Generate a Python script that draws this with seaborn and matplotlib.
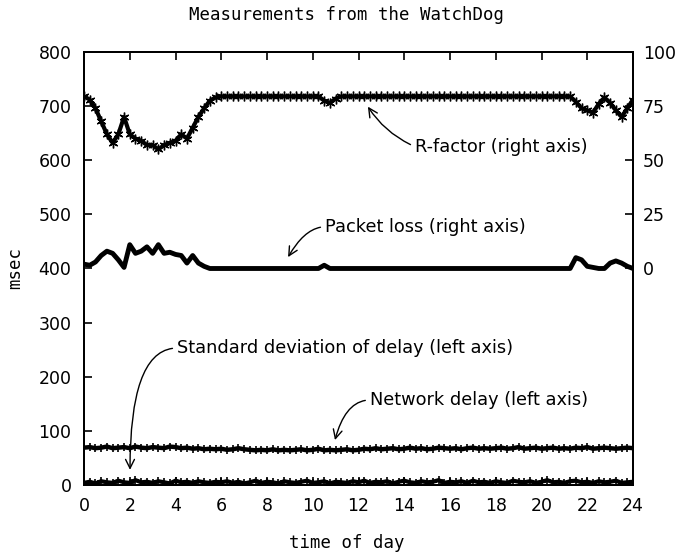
#!/usr/bin/env python3
# -*- coding: utf-8 -*-

"""
WatchDog measurements over one day: delay on the left axis (msec),
R-factor and packet loss on the right axis.
"""

import matplotlib
matplotlib.use('Agg')
import matplotlib.pyplot as plt
import numpy as np
import seaborn as sns

# sample times, every quarter of an hour
hours = np.arange(0, 24.01, 0.25)

# right axis
r_factor = [79.5, 78, 74, 68, 62, 58, 62, 70, 62, 60, 59, 57, 57, 55, 57,
            58, 59, 62, 60, 65, 70, 74, 77.5, 79, 79.5,
            79.5, 79.5, 79.5, 79.5, 79.5, 79.5, 79.5, 79.5, 79.5, 79.5,
            79.5, 79.5, 79.5, 79.5, 79.5, 79.5, 79.5,
            77.5, 76.5, 78.5, 79.5,
            79.5, 79.5, 79.5, 79.5, 79.5, 79.5, 79.5, 79.5, 79.5, 79.5,
            79.5, 79.5, 79.5, 79.5, 79.5, 79.5, 79.5, 79.5, 79.5, 79.5,
            79.5, 79.5, 79.5, 79.5, 79.5, 79.5, 79.5, 79.5, 79.5, 79.5,
            79.5, 79.5, 79.5, 79.5, 79.5, 79.5, 79.5, 79.5, 79.5, 79.5,
            77, 74, 73, 72, 76, 79, 76.5, 73, 70, 74, 78]

packet_loss = [2, 1.5, 3, 6, 8, 7, 4, 0.5, 11, 7, 8, 10, 7, 11, 7, 7.5,
               6.5, 6, 2.5, 6, 2.5, 1, 0, 0, 0,
               0, 0, 0, 0, 0, 0, 0, 0, 0, 0, 0, 0, 0, 0, 0, 0, 0,
               1.5, 0, 0, 0,
               0, 0, 0, 0, 0, 0, 0, 0, 0, 0, 0, 0, 0, 0, 0, 0, 0, 0, 0, 0,
               0, 0, 0, 0, 0, 0, 0, 0, 0, 0, 0, 0, 0, 0, 0, 0, 0, 0, 0, 0,
               5, 4, 1, 0.5, 0, 0, 2.5, 3.5, 2.5, 1, 0]

# left axis (msec)
net_delay = [69, 70, 68, 69, 71, 68, 69, 70, 68, 71, 69, 68, 70, 69, 68, 71,
             70, 68, 69, 67, 68, 66, 67, 66,
             67, 65, 66, 68, 66, 65, 64, 65, 64, 66, 64, 65, 64, 65, 66, 64,
             65, 67, 64, 65, 64, 65, 66, 64,
             65, 67, 66, 68, 66, 67, 68, 66, 67, 69, 67, 68, 66, 67, 69, 68,
             67, 68, 66, 68, 69, 67, 68, 67,
             68, 69, 67, 68, 70, 67, 68, 69, 67, 68, 69, 67, 68, 67, 69, 68,
             70, 67, 68, 69, 68, 67, 68, 69, 68]

std_delay = [4, 6, 3, 7, 5, 4, 8, 5, 4, 9, 5, 6, 4, 7, 5, 3, 8, 5, 6, 4, 7,
             5, 4, 6,
             5, 7, 4, 6, 3, 5, 8, 4, 6, 5, 3, 7, 5, 4, 6, 8, 4, 5, 7, 3, 6,
             5, 4, 7,
             5, 8, 4, 6, 5, 7, 3, 6, 8, 5, 4, 7, 5, 6, 9, 4, 6, 5, 7, 4, 8,
             5, 6, 4,
             7, 5, 4, 8, 6, 5, 7, 4, 6, 9, 5, 6, 4, 7, 8, 5, 6, 4, 7, 5, 6,
             8, 4, 5, 6]

x_ticks = list(range(0, 25, 2))
left_ticks = list(range(0, 801, 100))
right_ticks = [0, 25, 50, 75, 100]

sans = ['DejaVu Sans']
mono = ['DejaVu Sans Mono']


def main():
    sns.set_style("white")
    plt.rcParams['font.family'] = sans
    plt.rcParams.update({'text.color': 'black', 'axes.labelcolor': 'black',
                         'xtick.color': 'black', 'ytick.color': 'black'})

    fig = plt.figure(figsize=(6.91, 5.56), dpi=100)
    ax = fig.add_axes([0.1216, 0.1277, 0.7945, 0.7788])
    ax2 = ax.twinx()

    sns.lineplot(x=hours, y=net_delay, ax=ax, color='black', linewidth=3.2,
                 marker='+', markersize=6, markeredgewidth=1.2,
                 markeredgecolor='black')
    sns.lineplot(x=hours, y=std_delay, ax=ax, color='black', linewidth=3,
                 marker='+', markersize=6, markeredgewidth=1.2,
                 markeredgecolor='black')
    sns.lineplot(x=hours, y=r_factor, ax=ax2, color='black', linewidth=3,
                 marker=(6, 2, 0), markersize=7, markeredgewidth=1,
                 markeredgecolor='black')
    sns.lineplot(x=hours, y=packet_loss, ax=ax2, color='black', linewidth=3.5)

    ax.set_xlim(0, 24)
    ax.set_ylim(0, 800)
    ax2.set_ylim(-100, 100)
    ax.set_xticks(x_ticks)
    ax.set_yticks(left_ticks)
    ax2.set_yticks(right_ticks)

    for a in (ax, ax2):
        for s in a.spines.values():
            s.set_linewidth(1.4)
            s.set_color('black')
    ax.tick_params(axis='x', direction='in', top=True, bottom=True,
                   length=6, width=1.2, pad=9, labelsize=12.5)
    ax.tick_params(axis='y', direction='in', left=True, right=False,
                   length=6, width=1.2, pad=9, labelsize=12.5)
    ax2.tick_params(axis='y', direction='in', right=True, left=False,
                    length=6, width=1.2, pad=7, labelsize=12.5)
    ax.set_xlabel('')
    ax.set_ylabel('')

    # annotations, anchored to the left (msec) axis
    notes = [
        ('R-factor (right axis)', (12.41, 699), (14.47, 625), 'arc3,rad=-0.15'),
        ('Packet loss (right axis)', (8.92, 421), (10.54, 477),
         'angle3,angleA=0,angleB=60'),
        ('Standard deviation of delay (left axis)', (2.01, 28), (4.07, 253),
         'angle3,angleA=0,angleB=90'),
        ('Network delay (left axis)', (10.97, 83), (12.5, 157),
         'angle3,angleA=0,angleB=75'),
    ]
    for label, tip, pos, conn in notes:
        ax.annotate(label, xy=tip, xytext=pos, ha='left', va='center',
                    fontsize=12.8,
                    arrowprops=dict(arrowstyle='->,head_length=0.5,head_width=0.25',
                                    connectionstyle=conn, color='black',
                                    lw=1, relpos=(0, 0.5), shrinkA=1,
                                    shrinkB=0))

    fig.text(0.502, 1 - 15 / 556, 'Measurements from the WatchDog',
             ha='center', va='center', fontsize=12.5, family=mono)
    fig.text(0.502, 1 - 543 / 556, 'time of day', ha='center', va='center',
             fontsize=12.5, family=mono)
    fig.text(15 / 691, 1 - 268 / 556, 'msec', ha='center', va='center',
             rotation=90, fontsize=12.5, family=mono)

    plt.savefig('out.png', dpi=100)


if __name__ == '__main__':
    main()
